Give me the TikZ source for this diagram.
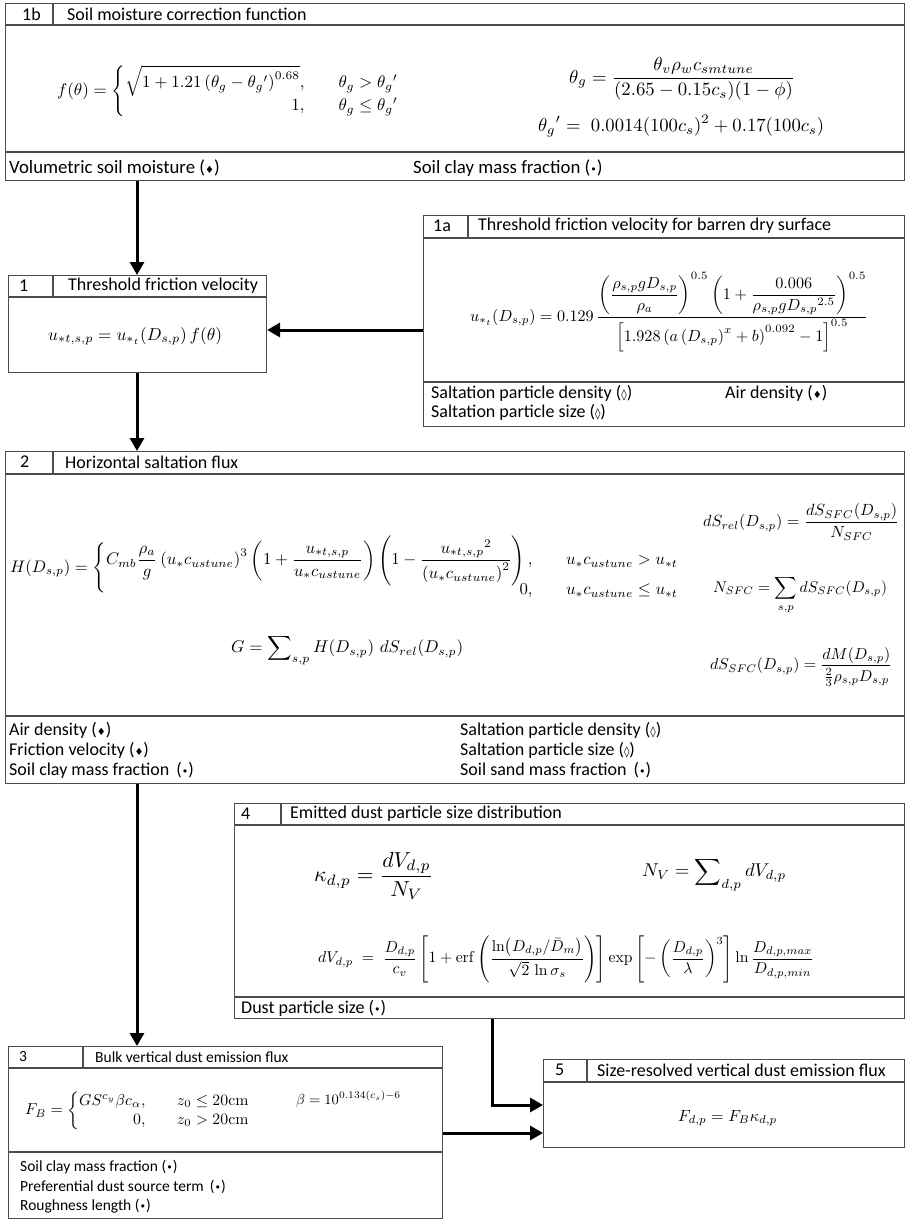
\documentclass[tikz,border=0pt]{standalone}
\usepackage{amsmath,amssymb}
\usepackage{graphicx}
\usepackage[no-math]{fontspec}
\setmainfont{Carlito}
\newfontfamily\djv{DejaVu Sans}
\usetikzlibrary{arrows.meta,calc}
\newcommand{\eqfit}[2]{\resizebox{#1pt}{!}{$\displaystyle #2$}}
\newcommand{\symbd}{{\djv\fontsize{10}{10}\selectfont ♦}}
\newcommand{\symwd}{{\djv\fontsize{11}{11}\selectfont ◊}}
\newcommand{\symbl}{{\djv\fontsize{11}{11}\selectfont •}}
\begin{document}
\begin{tikzpicture}[x=1pt,y=-1pt,
  boxnode/.style={draw=black!70, line width=1.1pt, rectangle, inner sep=0pt, anchor=north west, fill=none},
  rule/.style={draw=black!70, line width=1.1pt},
  lbl/.style={anchor=west, inner sep=0pt, font=\fontsize{18}{20}\selectfont},
  lblbig/.style={anchor=west, inner sep=0pt, font=\fontsize{18.8}{20}\selectfont},
  lblsmall/.style={anchor=west, inner sep=0pt, font=\fontsize{15.5}{18}\selectfont},
  eqn/.style={anchor=west, inner sep=0pt},
  arr/.style={line width=3pt, -{Triangle[length=13pt,width=14pt]}}]
\useasboundingbox (0,0) rectangle (906,1220);
\fill[white] (0,0) rectangle (906,1220);

% ---------- Box 1b ----------
\node[boxnode, minimum width=899pt, minimum height=177pt] (b1b) at (5,3) {};
\draw[rule] (5,25) -- (904,25);
\draw[rule] (53,3) -- (53,25);
\draw[rule] (5,152) -- (904,152);
\node[lbl] (n1b) at (22,14) {1b};
\node[lbl] (h1b) at (67,14) {Soil moisture correction function};
\node[eqn] (e1b1) at (57,91) {\eqfit{351}{f(\theta)=\left\{\begin{array}{@{}rl}\sqrt{1+1.21\left(\theta_g-\theta_g{}'\right)^{0.68}}, & \quad\theta_g>\theta_g{}'\\[0pt] 1, & \quad\theta_g\le\theta_g{}'\end{array}\right.}};
\node[eqn] (e1b2) at (569,79) {\eqfit{226}{\theta_g=\frac{\theta_v\rho_w c_{smtune}}{(2.65-0.15c_s)(1-\phi)}}};
\node[eqn] (e1b3) at (538,126) {\eqfit{286}{\theta_g{}'=\;0.0014(100c_s)^2+0.17(100c_s)}};
\node[lblbig] (f1b1) at (9,168) {Volumetric soil moisture (\symbd)};
\node[lblbig] (f1b2) at (413,168) {Soil clay mass fraction (\symbl)};

% ---------- Box 1a ----------
\node[boxnode, minimum width=481pt, minimum height=211pt] (b1a) at (423,215) {};
\draw[rule] (423,238) -- (904,238);
\draw[rule] (468,215) -- (468,238);
\draw[rule] (423,382) -- (904,382);
\node[lbl] (n1a) at (433,226) {1a};
\node[lbl] (h1a) at (478,226) {Threshold friction velocity for barren dry surface};
\node[eqn] (e1a) at (470,312) {\eqfit{398}{u_{*_t}\!\left(D_{s,p}\right)=0.129\,\frac{\left(\dfrac{\rho_{s,p}gD_{s,p}}{\rho_a}\right)^{0.5}\left(1+\dfrac{0.006}{\rho_{s,p}gD_{s,p}{}^{2.5}}\right)^{0.5}}{\left[1.928\left(a\left(D_{s,p}\right)^x+b\right)^{0.092}-1\right]^{0.5}}}};
\node[lbl] (f1a1) at (431,393) {Saltation particle density (\symwd)};
\node[lbl] (f1a2) at (725,393) {Air density (\symbd)};
\node[lbl] (f1a3) at (431,412) {Saltation particle size (\symwd)};

% ---------- Box 1 ----------
\node[boxnode, minimum width=258pt, minimum height=97pt] (b1) at (8,275) {};
\draw[rule] (8,297) -- (266,297);
\draw[rule] (53,275) -- (53,297);
\node[lbl] (n1) at (19,286) {1};
\node[lbl] (h1) at (68,286) {Threshold friction velocity};
\node[eqn] (e1) at (48,336) {\eqfit{174}{u_{*t,s,p}=u_{*_t}\!\left(D_{s,p}\right)f(\theta)}};

% ---------- Box 2 ----------
\node[boxnode, minimum width=899pt, minimum height=332pt] (b2) at (5,451) {};
\draw[rule] (5,474) -- (904,474);
\draw[rule] (53,451) -- (53,474);
\draw[rule] (5,716) -- (904,716);
\node[lbl] (n2) at (20,462) {2};
\node[lbl] (h2) at (65,462) {Horizontal saltation flux};
\node[eqn] (e2H) at (10,568) {\eqfit{676}{H\!\left(D_{s,p}\right)=\Biggl\{\begin{array}{@{}rl}C_{mb}\dfrac{\rho_a}{g}\left(u_*c_{ustune}\right)^3\left(1+\dfrac{u_{*t,s,p}}{u_*c_{ustune}}\right)\left(1-\dfrac{u_{*t,s,p}{}^2}{\left(u_*c_{ustune}\right)^2}\right), & \quad u_*c_{ustune}>u_{*t}\\[-3pt] 0, & \quad u_*c_{ustune}\le u_{*t}\end{array}}};
\node[eqn] (e2a) at (703,522) {\eqfit{196}{dS_{rel}\!\left(D_{s,p}\right)=\frac{dS_{SFC}\!\left(D_{s,p}\right)}{N_{SFC}}}};
\node[eqn] (e2b) at (713,595) {\eqfit{174}{N_{SFC}=\sum_{s,p}dS_{SFC}\!\left(D_{s,p}\right)}};
\node[eqn] (e2G) at (231,650) {\eqfit{232}{G=\sum\nolimits_{s,p}H\!\left(D_{s,p}\right)\,dS_{rel}\!\left(D_{s,p}\right)}};
\node[eqn] (e2c) at (710,667) {\eqfit{182}{dS_{SFC}\!\left(D_{s,p}\right)=\frac{dM\!\left(D_{s,p}\right)}{\frac{2}{3}\rho_{s,p}D_{s,p}}}};
\node[lbl] (f2a) at (9,730) {Air density (\symbd)};
\node[lbl] (f2b) at (9,750) {Friction velocity (\symbd)};
\node[lbl] (f2c) at (9,770) {Soil clay mass fraction \,(\symbl)};
\node[lbl] (f2d) at (460,730) {Saltation particle density (\symwd)};
\node[lbl] (f2e) at (460,750) {Saltation particle size (\symwd)};
\node[lbl] (f2f) at (460,770) {Soil sand mass fraction \,(\symbl)};

% ---------- Box 4 ----------
\node[boxnode, minimum width=670pt, minimum height=215pt] (b4) at (234,803) {};
\draw[rule] (234,825) -- (904,825);
\draw[rule] (281,803) -- (281,825);
\draw[rule] (234,997) -- (904,997);
\node[lbl] (n4) at (241,814) {4};
\node[lbl] (h4) at (290,814) {Emitted dust particle size distribution};
\node[eqn] (e4a) at (314,876) {\eqfit{119}{\kappa_{d,p}=\frac{dV_{d,p}}{N_V}}};
\node[eqn] (e4b) at (642,874) {\eqfit{144}{N_V=\sum\nolimits_{d,p}dV_{d,p}}};
\node[eqn] (e4c) at (318,959) {\eqfit{496}{dV_{d,p}\;=\;\frac{D_{d,p}}{c_v}\left[1+\mathrm{erf}\left(\frac{\ln\!\left(D_{d,p}/\bar{D}_m\right)}{\sqrt{2}\,\ln\sigma_s}\right)\right]\exp\left[-\left(\frac{D_{d,p}}{\lambda}\right)^3\right]\ln\frac{D_{d,p,max}}{D_{d,p,min}}}};
\node[lbl] (f4) at (241,1008) {Dust particle size (\symbl)};

% ---------- Box 3 ----------
\node[boxnode, minimum width=434pt, minimum height=172pt] (b3) at (8,1046) {};
\draw[rule] (8,1068) -- (442,1068);
\draw[rule] (83,1046) -- (83,1068);
\draw[rule] (8,1152) -- (442,1152);
\node[lblsmall] (n3) at (19,1057) {3};
\node[lblsmall] (h3) at (95,1057) {Bulk vertical dust emission flux};
\node[eqn] (e3a) at (25,1111) {\eqfit{233}{F_B=\left\{\begin{array}{@{}rl}GS^{c_y}\beta c_\alpha, & \quad z_0\le 20\mathrm{cm}\\ 0, & \quad z_0>20\mathrm{cm}\end{array}\right.}};
\node[eqn] (e3b) at (296,1099) {\scalebox{1.45}{$\beta=10^{0.134(c_s)-6}$}};
\node[lblsmall] (f3a) at (20,1167) {Soil clay mass fraction (\symbl)};
\node[lblsmall] (f3b) at (20,1187) {Preferential dust source term \,(\symbl)};
\node[lblsmall] (f3c) at (20,1206) {Roughness length (\symbl)};

% ---------- Box 5 ----------
\node[boxnode, minimum width=361pt, minimum height=88pt] (b5) at (543,1059) {};
\draw[rule] (543,1082) -- (904,1082);
\draw[rule] (587,1059) -- (587,1082);
\node[lbl] (n5) at (555,1070) {5};
\node[lbl] (h5) at (597,1070) {Size-resolved vertical dust emission flux};
\node[eqn] (e5) at (678,1118) {\eqfit{99}{F_{d,p}=F_B\kappa_{d,p}}};

% ---------- Connectors ----------
\coordinate (xa) at (137,0);
\coordinate (xe) at (492,0);
\coordinate (yb) at (0,330);
\coordinate (ye) at (0,1105);
\coordinate (yf) at (0,1133);
\draw[arr] (b1b.south -| xa) -- (b1.north -| xa);
\draw[arr] (b1a.west |- yb) -- (b1.east |- yb);
\draw[arr] (b1.south -| xa) -- (b2.north -| xa);
\draw[arr] (b2.south -| xa) -- (b3.north -| xa);
\draw[arr] (b4.south -| xe) -- (xe |- ye) -- (b5.west |- ye);
\draw[arr] (b3.east |- yf) -- (b5.west |- yf);
\end{tikzpicture}
\end{document}
